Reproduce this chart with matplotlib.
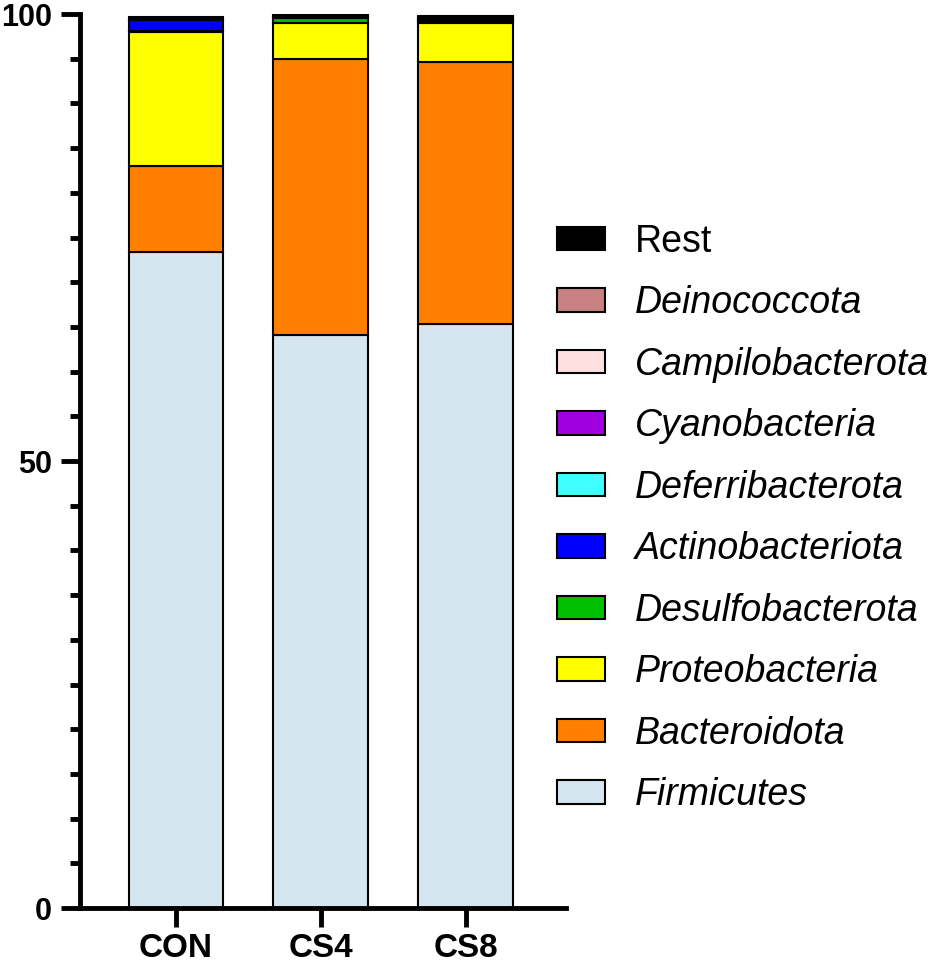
import numpy as np
import matplotlib.pyplot as plt
from matplotlib.ticker import MultipleLocator

plt.rcParams['font.family'] = ['Liberation Sans', 'DejaVu Sans']

# Групи
groups = ['CON', 'CS4', 'CS8']

# Відносна чисельність (%), знизу вгору
taxa = ['Firmicutes', 'Bacteroidota', 'Proteobacteria', 'Desulfobacterota',
        'Actinobacteriota', 'Deferribacterota', 'Cyanobacteria',
        'Campilobacterota', 'Deinococcota', 'Rest']
firmicutes = [73.4, 64.1, 65.3]
bacteroidota = [9.6, 30.9, 29.3]
proteobacteria = [15.0, 4.0, 4.4]
desulfobacterota = [0.1, 0.5, 0.2]
actinobacteriota = [1.2, 0.1, 0.1]
deferribacterota = [0.05, 0.05, 0.05]
cyanobacteria = [0.02, 0.02, 0.02]
campilobacterota = [0.02, 0.02, 0.02]
deinococcota = [0.01, 0.01, 0.01]
rest = [0.3, 0.3, 0.4]

values = [firmicutes, bacteroidota, proteobacteria, desulfobacterota,
          actinobacteriota, deferribacterota, cyanobacteria,
          campilobacterota, deinococcota, rest]
colors = ['#D6E6F0', '#FF8000', '#FFFF00', '#00C000', '#0000FF',
          '#40FFFF', '#A000E0', '#FFE0E0', '#C88080', '#000000']

fig = plt.figure(figsize=(9.32, 9.67), dpi=100)
ax = fig.add_axes([0.0858, 0.061, 0.521, 0.9245])

x = np.arange(len(groups))
bottom = np.zeros(len(groups))
handles = []
for name, vals, c in zip(taxa, values, colors):
    b = ax.bar(x, vals, bottom=bottom, width=0.65, color=c,
               edgecolor='black', linewidth=1.5, label=name)
    handles.append(b)
    bottom += np.array(vals)

ax.set_xlim(-0.66, 2.69)
ax.set_ylim(0, 100)
ax.set_xticks(x)
ax.set_xticklabels(groups, fontsize=24, fontweight='bold')
ax.set_yticks([0, 50, 100])
ax.set_yticklabels(['0', '50', '100'], fontsize=22, fontweight='bold')
ax.yaxis.set_minor_locator(MultipleLocator(5))

for s in ['top', 'right']:
    ax.spines[s].set_visible(False)
for s in ['left', 'bottom']:
    ax.spines[s].set_linewidth(3.5)

ax.tick_params(axis='both', which='major', length=14, width=3.5, pad=6)
ax.tick_params(axis='x', which='major', pad=4)
ax.tick_params(axis='y', which='minor', length=7, width=3.5)

labels = taxa[::-1]
leg = fig.legend(handles[::-1], labels, loc='center left',
                 bbox_to_anchor=(0.598, 0.464), frameon=False,
                 fontsize=27, handlelength=1.28, handleheight=0.59,
                 labelspacing=0.68, handletextpad=0.8, borderpad=0.0,
                 borderaxespad=0.0)
for t in leg.get_texts():
    t.set_fontstyle('italic')
leg.get_texts()[0].set_fontstyle('normal')

plt.savefig('out.png', dpi=100)
